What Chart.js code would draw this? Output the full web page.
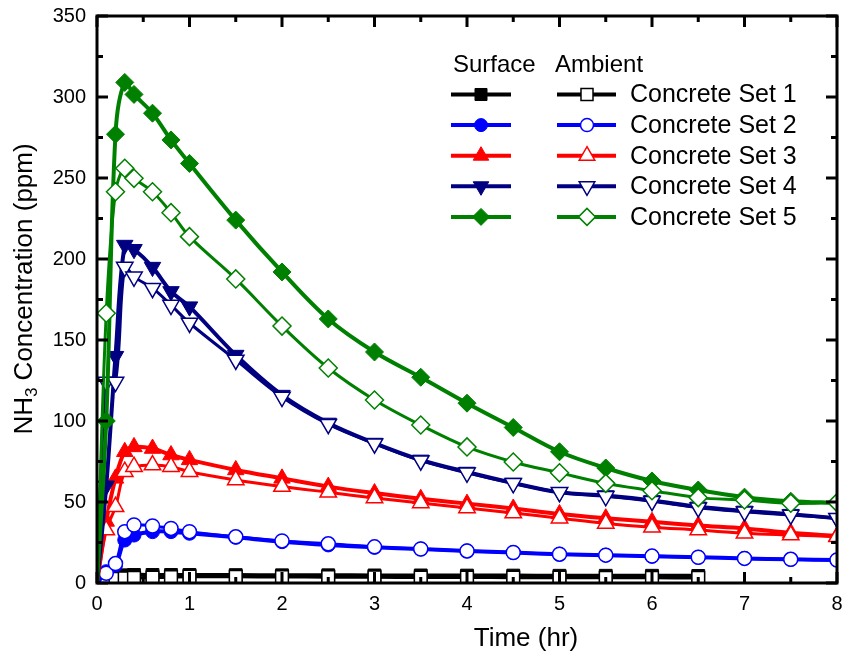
<!DOCTYPE html>
<html>
<head>
<meta charset="utf-8">
<script src="https://cdn.jsdelivr.net/npm/chart.js@4.4.1/dist/chart.umd.min.js"></script>
<style>
    html, body { margin: 0; padding: 0; background: #fff; }
    #wrap { width: 842px; height: 658px; }
</style>
</head>
<body>
<div id="wrap"><canvas id="nh3Chart" width="842" height="658"></canvas></div>
<script>
// --- DATA ---
const times = [0, 0.1, 0.2, 0.3, 0.4, 0.6, 0.8, 1, 1.5, 2, 2.5, 3, 3.5, 4, 4.5, 5, 5.5, 6, 6.5, 7, 7.5, 8];

// Set 1 stops at 6.5 h
const set1Surface = [0, 4.2, 4.6, 4.8, 5, 5, 5, 5, 4.9, 4.8, 4.8, 4.7, 4.7, 4.6, 4.6, 4.5, 4.5, 4.5, 4.4];
const set1Ambient = [0, 2.5, 2.6, 2.8, 3.1, 3.3, 3.6, 3.9, 3.8, 3.7, 3.6, 3.5, 3.4, 3.4, 3.3, 3.3, 3.2, 3.2, 3.1];
const set2Surface = [0, 7, 11, 26.5, 29.6, 31.7, 31.7, 30.7, 28.2, 25.5, 23.5, 22, 21, 19.8, 18.8, 17.8, 17.2, 16.5, 15.9, 15.2, 14.6, 14.2];
const set2Ambient = [0, 6, 12, 31.7, 35.8, 35.2, 33.7, 31.7, 28.5, 26, 24.2, 22.3, 21, 19.8, 18.8, 17.8, 17.2, 16.6, 15.9, 15.2, 14.6, 14.2];
const set3Surface = [0, 38, 64.6, 81, 84, 83, 79, 76, 69.8, 64.6, 59.5, 55.5, 52, 49, 46, 42.6, 40, 37.8, 35.5, 33.7, 31, 29];
const set3Ambient = [0, 32.7, 47, 68.7, 71.8, 72.8, 71.8, 68.7, 63.6, 59.5, 56, 52.5, 49.4, 46.3, 43.2, 40, 36.8, 34.4, 32.7, 30.7, 29.6, 28.6];
const set4Surface = [0, 60, 140, 208.6, 206, 195, 180, 170.6, 140.7, 116, 98.8, 86.4, 76, 68.5, 61.7, 56, 54, 51, 47, 44.5, 42.5, 40];
const set4Ambient = [0, 124, 124, 195, 189, 182, 171.6, 160.5, 137.7, 114.8, 98, 86, 75.5, 68, 61.5, 56, 53.5, 50.5, 46.5, 44, 42, 40];
const set5Surface = [0, 100, 277, 309, 301.6, 290, 273.5, 259, 224, 192, 163, 142.6, 127, 111, 96, 81, 71, 63, 57.4, 53, 50.5, 49.5];
const set5Ambient = [0, 166.5, 241.5, 256, 249.8, 241.5, 228.6, 213.8, 187.7, 158.6, 132.7, 113, 97.5, 84, 74.7, 68, 61.5, 57, 52.7, 51.2, 49.2, 49.6];

const seriesNames = ['Concrete Set 1', 'Concrete Set 2', 'Concrete Set 3', 'Concrete Set 4', 'Concrete Set 5'];
const columnTitles = ['Surface', 'Ambient'];
const xTickValues = [0, 1, 2, 3, 4, 5, 6, 7, 8];
const yTickValues = [0, 50, 100, 150, 200, 250, 300, 350];
const xTitle = 'Time (hr)';

// --- STYLE ---
const FONT = "'Liberation Sans', Arial, sans-serif";
const colors = ['#000000', '#0000ff', '#ff0000', '#000080', '#008000'];
const markers = [
    { pointStyle: 'rect', radius: 9, rotation: 0 },
    { pointStyle: 'circle', radius: 7, rotation: 0 },
    { pointStyle: 'triangle', radius: 9.5, rotation: 0 },
    { pointStyle: 'triangle', radius: 9.5, rotation: 180 },
    { pointStyle: 'rectRot', radius: 9, rotation: 0 }
];

const surfaceData = [set1Surface, set2Surface, set3Surface, set4Surface, set5Surface];
const ambientData = [set1Ambient, set2Ambient, set3Ambient, set4Ambient, set5Ambient];

const toPoints = arr => arr.map((v, i) => ({ x: times[i], y: v }));
// no marker at t = 0 (sits on the axis)
const hideFirst = r => ctx => (ctx.dataIndex === 0 ? 0 : r);

const datasets = [];
let drawIdx = 0;
for (let i = 0; i < 5; i++) {
    const m = markers[i];
    datasets.push({
        label: seriesNames[i] + ' (Surface)',
        data: toPoints(surfaceData[i]),
        borderColor: colors[i],
        backgroundColor: colors[i],
        borderWidth: 4,
        pointStyle: m.pointStyle,
        pointRotation: m.rotation,
        pointRadius: hideFirst(m.radius),
        pointBackgroundColor: colors[i],
        pointBorderColor: colors[i],
        pointBorderWidth: 1,
        tension: 0.35,
        order: 20 - drawIdx++
    });
    datasets.push({
        label: seriesNames[i] + ' (Ambient)',
        data: toPoints(ambientData[i]),
        borderColor: colors[i],
        backgroundColor: '#ffffff',
        borderWidth: 3,
        pointStyle: m.pointStyle,
        pointRotation: m.rotation,
        pointRadius: hideFirst(m.radius),
        pointBackgroundColor: '#ffffff',
        pointBorderColor: colors[i],
        pointBorderWidth: 1.5,
        tension: 0.35,
        order: 20 - drawIdx++
    });
}

// --- FIXED PLOT BOX (matches the figure's frame) ---
const PLOT_RIGHT_GAP = 5;
const boxPlugin = {
    id: 'box',
    afterLayout(chart) {
        const a = chart.chartArea;
        a.right = chart.width - PLOT_RIGHT_GAP;
        a.width = a.right - a.left;
        const x = chart.scales.x;
        x.right = a.right;
        x.width = x.right - x.left;
        x.configure();
    }
};

// --- FRAME WITH INWARD TICKS ---
const framePlugin = {
    id: 'frame',
    afterDatasetsDraw(chart) {
        const { ctx, chartArea: a, scales: { x, y } } = chart;
        ctx.save();
        ctx.strokeStyle = '#000';
        ctx.lineWidth = 3;
        ctx.lineCap = 'butt';
        ctx.beginPath();
        for (let v = 0; v <= 8; v += 0.5) {
            const px = x.getPixelForValue(v);
            const len = Number.isInteger(v) ? 11 : 6;
            ctx.moveTo(px, a.bottom); ctx.lineTo(px, a.bottom - len);
            ctx.moveTo(px, a.top); ctx.lineTo(px, a.top + len);
        }
        for (let v = 0; v <= 350; v += 25) {
            const py = y.getPixelForValue(v);
            const len = v % 50 === 0 ? 11 : 6;
            ctx.moveTo(a.left, py); ctx.lineTo(a.left + len, py);
            ctx.moveTo(a.right, py); ctx.lineTo(a.right - len, py);
        }
        ctx.stroke();
        ctx.lineCap = 'square';
        ctx.strokeRect(a.left, a.top, a.right - a.left, a.bottom - a.top);
        ctx.restore();
    }
};

// --- TITLES + TWO-COLUMN LEGEND ---
const textPlugin = {
    id: 'texts',
    afterDraw(chart) {
        const ctx = chart.ctx;
        ctx.save();
        ctx.fillStyle = '#000';

        // x title
        ctx.font = `26px ${FONT}`;
        ctx.textAlign = 'center';
        ctx.textBaseline = 'alphabetic';
        ctx.fillText(xTitle, 526, 646);

        // y title with subscript 3
        ctx.save();
        ctx.translate(22, 289);
        ctx.rotate(-Math.PI / 2);
        ctx.textAlign = 'left';
        const big = `26px ${FONT}`, small = `17px ${FONT}`;
        ctx.font = big; const w1 = ctx.measureText('NH').width;
        ctx.font = small; const w2 = ctx.measureText('3').width;
        ctx.font = big; const w3 = ctx.measureText(' Concentration (ppm)').width;
        let lx = -(w1 + w2 + w3) / 2;
        const base = 10;
        ctx.fillText('NH', lx, base); lx += w1;
        ctx.font = small; ctx.fillText('3', lx, base + 5); lx += w2;
        ctx.font = big; ctx.fillText(' Concentration (ppm)', lx, base);
        ctx.restore();

        // legend
        ctx.font = `24px ${FONT}`;
        ctx.textAlign = 'left';
        ctx.textBaseline = 'middle';
        ctx.fillText(columnTitles[0], 453, 65);
        ctx.fillText(columnTitles[1], 555, 65);
        const cols = [{ x0: 451, x1: 511, mx: 481 }, { x0: 557, x1: 616, mx: 587 }];
        for (let i = 0; i < 5; i++) {
            const ry = 94.5 + i * 30.6;
            cols.forEach((c, k) => {
                ctx.strokeStyle = colors[i];
                ctx.lineWidth = 4;
                ctx.beginPath();
                ctx.moveTo(c.x0, ry); ctx.lineTo(c.x1, ry);
                ctx.stroke();
                ctx.fillStyle = k === 0 ? colors[i] : '#ffffff';
                ctx.lineWidth = k === 0 ? 1 : 1.5;
                Chart.helpers.drawPoint(ctx, {
                    pointStyle: markers[i].pointStyle,
                    radius: markers[i].radius - 0.5,
                    rotation: markers[i].rotation,
                    borderWidth: k === 0 ? 1 : 1.5
                }, c.mx, ry);
            });
            ctx.fillStyle = '#000';
            ctx.font = `25px ${FONT}`;
            ctx.fillText(seriesNames[i], 630, ry + 1);
        }
        ctx.restore();
    }
};

// keep the plot box fixed: ignore label overhang padding
const noOverhang = s => { s.paddingLeft = 0; s.paddingRight = 0; s.paddingTop = 0; s.paddingBottom = 0; };

new Chart(document.getElementById('nh3Chart'), {
    type: 'line',
    data: { datasets },
    options: {
        responsive: false,
        animation: false,
        devicePixelRatio: 1,
        layout: { padding: { top: 16, right: 5, left: 0, bottom: 0 } },
        plugins: { legend: { display: false }, tooltip: { enabled: false } },
        scales: {
            x: {
                type: 'linear',
                min: 0, max: 8,
                afterBuildTicks: s => { s.ticks = xTickValues.map(v => ({ value: v })); },
                afterFit: s => { s.height = 75; noOverhang(s); },
                grid: { display: false, drawTicks: false },
                border: { display: false },
                ticks: { color: '#000', padding: 9, font: { family: FONT, size: 20 } }
            },
            y: {
                type: 'linear',
                min: 0, max: 350,
                afterBuildTicks: s => { s.ticks = yTickValues.map(v => ({ value: v })); },
                afterFit: s => { s.width = 97; noOverhang(s); },
                grid: { display: false, drawTicks: false },
                border: { display: false },
                ticks: { color: '#000', padding: 11, font: { family: FONT, size: 20 } }
            }
        }
    },
    plugins: [boxPlugin, framePlugin, textPlugin]
});
</script>
</body>
</html>
